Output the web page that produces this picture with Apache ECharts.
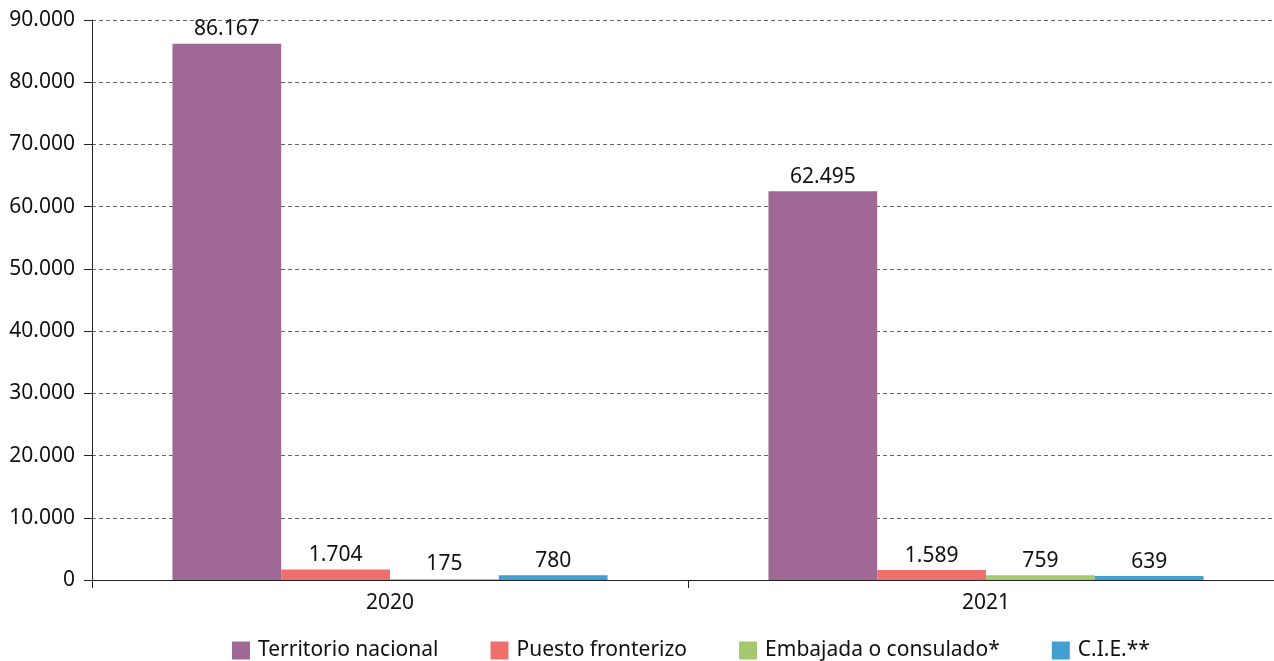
<!DOCTYPE html>
<html><head><meta charset="utf-8">
<script src="https://cdn.jsdelivr.net/npm/echarts@6/dist/echarts.min.js"></script>
<style>html,body{margin:0;padding:0;background:#fff}#c{width:1274px;height:661px}</style>
</head><body><div id="c"></div>
<script>
const categories = ['2020', '2021'];
const seriesNames = ['Territorio nacional', 'Puesto fronterizo', 'Embajada o consulado*', 'C.I.E.**'];
const territorio = [86167, 62495];
const puesto = [1704, 1589];
const embajada = [175, 759];
const cie = [780, 639];
const colors = ['#a06894', '#ef6f6c', '#a5c86e', '#419fd2'];

const FONT = 'Noto Sans';
const fmt = v => String(v).replace(/\B(?=(\d{3})+(?!\d))/g, '.');
const values = [territorio, puesto, embajada, cie];

const chart = echarts.init(document.getElementById('c'), null, {renderer: 'canvas'});
chart.setOption({
  animation: false,
  color: colors,
  textStyle: {fontFamily: FONT},
  grid: {left: 92, width: 1192, top: 20, height: 560, containLabel: false, outerBoundsMode: 'none'},
  legend: {
    top: 640, left: 232, padding: 0, itemWidth: 18, itemHeight: 18, itemGap: 52,
    icon: 'rect',
    textStyle: {fontFamily: FONT, fontSize: 21, color: '#111', padding: [0, 0, 0, 3]},
    data: seriesNames
  },
  xAxis: {
    type: 'category', data: categories,
    axisLine: {lineStyle: {color: '#222', width: 1}},
    axisTick: {show: true, length: 8, lineStyle: {color: '#222'}},
    axisLabel: {fontFamily: FONT, fontSize: 21, color: '#111', margin: 13}
  },
  yAxis: {
    type: 'value', min: 0, max: 90000, interval: 10000,
    axisLine: {show: true, lineStyle: {color: '#222'}},
    axisTick: {show: true, length: 8, lineStyle: {color: '#222'}},
    axisLabel: {fontFamily: FONT, fontSize: 21, color: '#111', margin: 17, formatter: v => fmt(v)},
    splitLine: {lineStyle: {type: [4, 3], color: '#666', width: 1}}
  },
  series: seriesNames.map((n, i) => ({
    name: n, type: 'bar', data: values[i],
    barGap: '0%', barCategoryGap: '27%',
    itemStyle: {color: colors[i]},
    label: {show: true, position: 'top', distance: 4, fontFamily: FONT, fontSize: 21, color: '#111', formatter: p => fmt(p.value)}
  }))
});
</script></body></html>
